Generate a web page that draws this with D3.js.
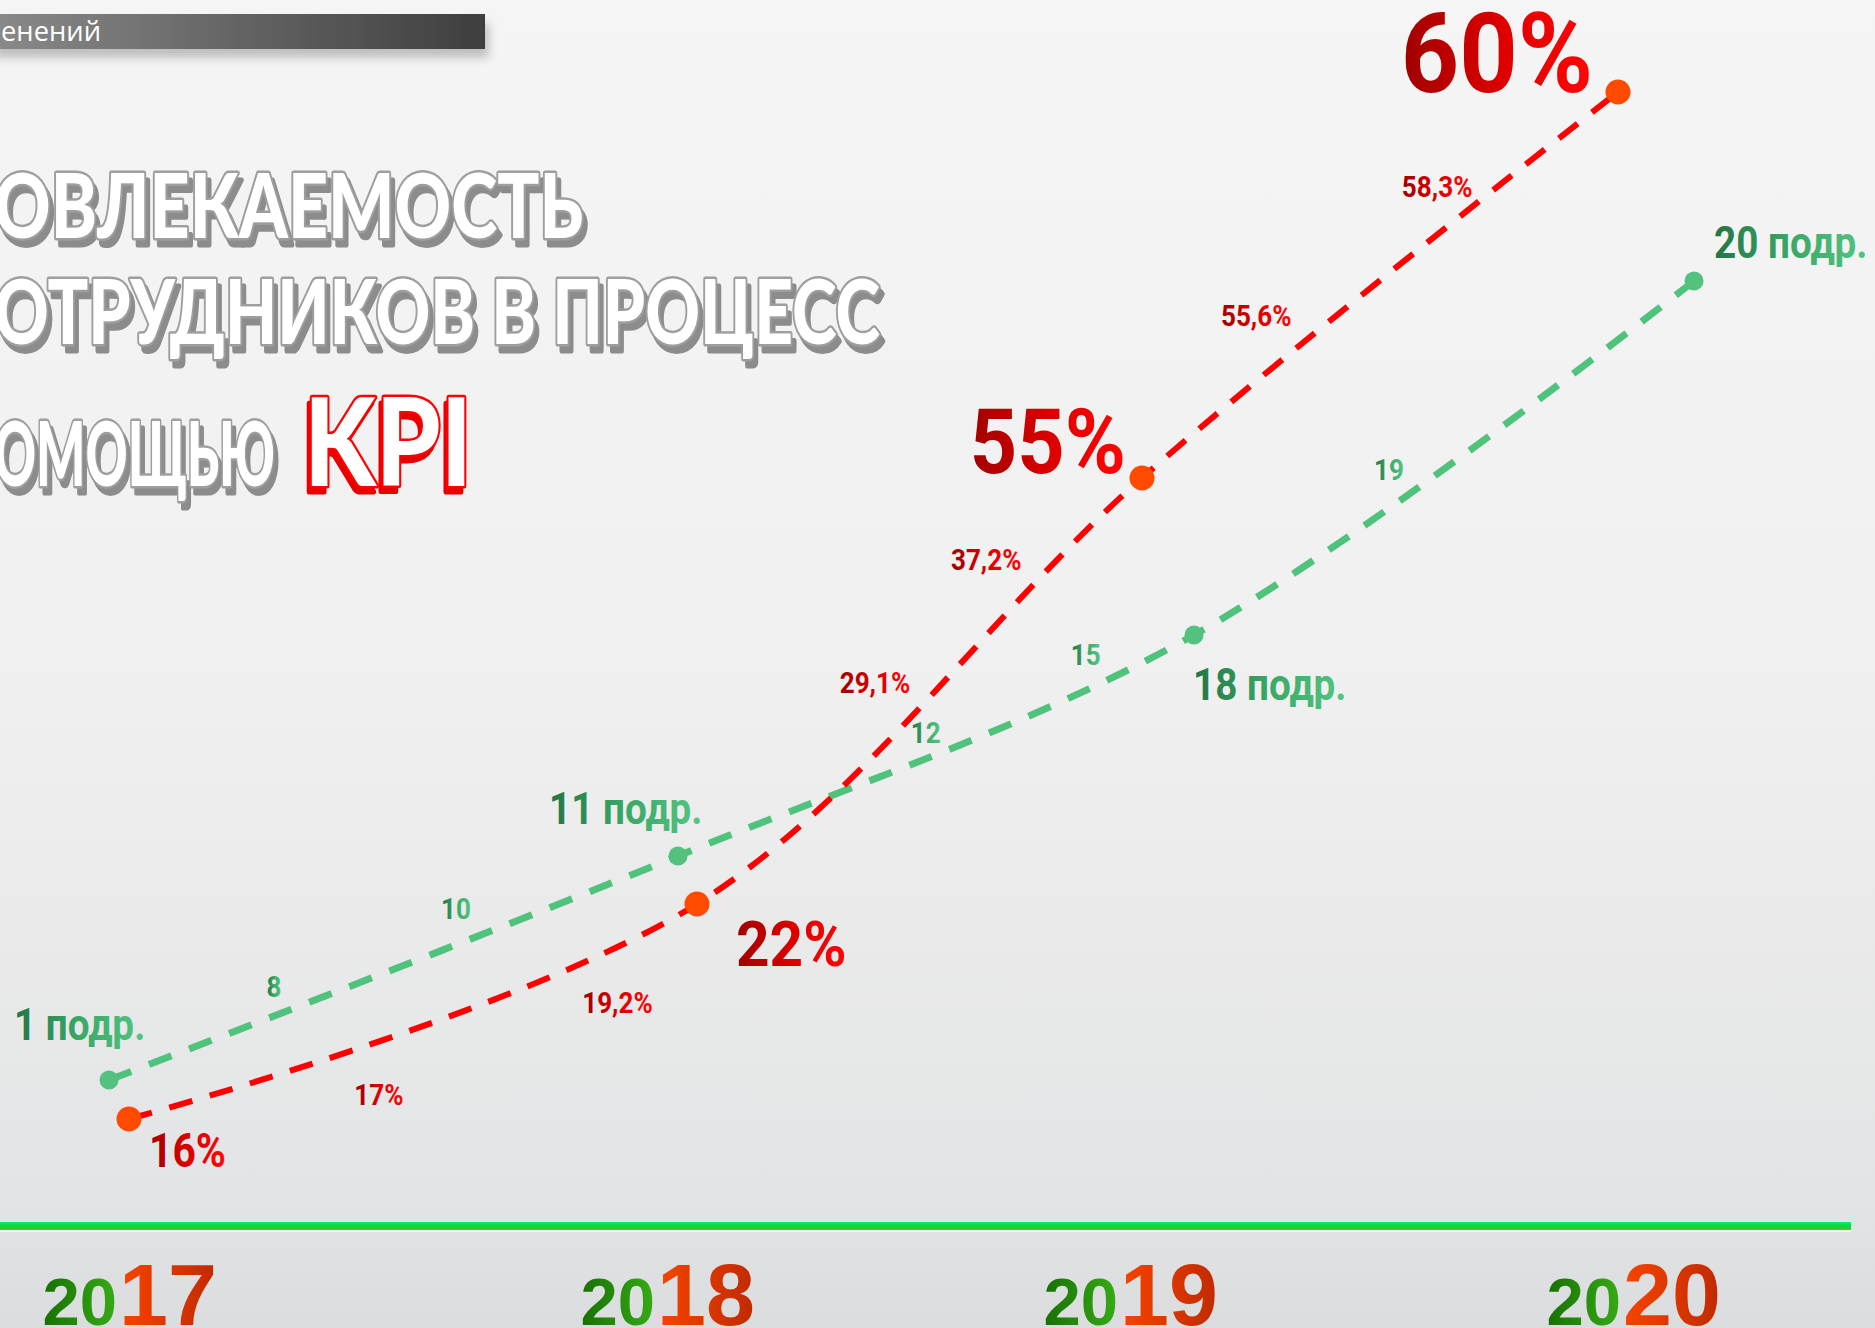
<!DOCTYPE html>
<html lang="ru">
<head>
<meta charset="utf-8">
<title>Вовлекаемость сотрудников в процесс с помощью KPI</title>
<script src="https://cdn.jsdelivr.net/npm/d3@7"></script>
<style>
    html, body { margin: 0; padding: 0; overflow: hidden; background: #eeeeee; }
    #chart-area { width: 1875px; height: 1328px; }
</style>
</head>
<body>
<div id="chart-area"></div>
<script>

// ---- data ----
let years = [2017, 2018, 2019, 2020];

// share of staff working with KPI, %
let shareValues = [16, 22, 55, 60];
let shareSteps = [17, 19.2, 29.1, 37.2, 55.6, 58.3];
let shareStepTimes = [2017.44, 2017.86, 2018.40, 2018.65, 2019.24, 2019.62];

// number of departments (подразделений)
let unitValues = [1, 11, 18, 20];
let unitSteps = [8, 10, 12, 15, 19];
let unitStepTimes = [2017.29, 2017.61, 2018.48, 2018.79, 2019.39];

let headerText = "енений";
let titleLines = ["ОВЛЕКАЕМОСТЬ", "ОТРУДНИКОВ В ПРОЦЕСС", "ОМОЩЬЮ"];
let titleAccent = "KPI";


// ---- layout (pixel ranges for the scales, label offsets) ----
const layout = {
    shareX: [129, 697, 1142, 1618],
    shareY: [1119, 904, 478, 92],
    unitX: [109, 678, 1194, 1694],
    unitY: [1080, 856, 635, 281],
    yearSplit: [117, 655, 1118, 1621],
    yearBaseline: 1325,
    axisY: 1222,
    shareLabels: [
        {anchor: "start", dx: 20, dy: 48, size: 48, sx: 0.85},
        {anchor: "start", dx: 39, dy: 62, size: 63, sx: 0.93},
        {anchor: "end", dx: -16, dy: -5, size: 91, sx: 0.91},
        {anchor: "end", dx: -25, dy: 0, size: 112, sx: 0.91}
    ],
    unitLabels: [
        {dx: -95, dy: -40},
        {dx: -129, dy: -32},
        {dx: -1, dy: 65},
        {dx: 20, dy: -23}
    ],
    shareStepDy: [22, 9, -119, -138, -106, -26],
    unitStepDy: [74, 41, -81, -65, 22]
};


class KpiChart {

    constructor(parentElement) {
        this.parentElement = parentElement;
        this.initVis();
    }

    initVis() {
        let vis = this;

        vis.width = 1875;
        vis.height = 1328;

        vis.svg = d3.select("#" + vis.parentElement).append("svg")
            .attr("width", vis.width)
            .attr("height", vis.height)
            .style("display", "block");

        vis.defs = vis.svg.append("defs");

        // gradients
        vis.addGradient("bg-grad", [0, 0, 0, 1], [[0, "#f5f5f5"], [0.5, "#f0f0f0"], [0.9, "#e3e4e5"], [1, "#dadcdd"]]);
        vis.addGradient("bar-grad", [0, 0, 1, 0], [[0, "#8a8a8a"], [1, "#3e3e3e"]]);
        vis.addGradient("red-text", [0, 0, 1, 0], [[0, "#a00000"], [0.55, "#e00000"], [1, "#ff0606"]]);
        vis.addGradient("green-text", [0, 0, 1, 0], [[0, "#227545"], [0.5, "#3aa866"], [1, "#55c583"]]);
        vis.addGradient("year-green", [0, 0, 1, 0], [[0, "#187004"], [1, "#36ab15"]]);
        vis.addGradient("year-red", [0, 0, 1, 0], [[0, "#f74400"], [1, "#c02a00"]]);
        vis.addGradient("axis-grad", [0, 0, 0, 1], [[0, "#00f566"], [0.5, "#0cd444"], [1, "#5cbc2a"]]);

        let shadow = vis.defs.append("filter")
            .attr("id", "bar-shadow")
            .attr("x", "-5%").attr("y", "-60%")
            .attr("width", "115%").attr("height", "260%");
        shadow.append("feDropShadow")
            .attr("dx", 4).attr("dy", 9)
            .attr("stdDeviation", 5)
            .attr("flood-color", "#000")
            .attr("flood-opacity", 0.22);

        // 3d shade for the title letters
        vis.addShade("shade-gray", "#8c8c8c", 4, 7);
        vis.addShade("shade-red", "#e80000", -3, 6);

        // background
        vis.svg.append("rect")
            .attr("width", vis.width)
            .attr("height", vis.height)
            .attr("fill", "url(#bg-grad)");

        // header bar (cut at the left edge)
        vis.svg.append("rect")
            .attr("x", -10).attr("y", 14)
            .attr("width", 495).attr("height", 35)
            .attr("fill", "url(#bar-grad)")
            .attr("filter", "url(#bar-shadow)");
        vis.svg.append("text")
            .attr("x", 1).attr("y", 41)
            .attr("font-family", "'Open Sans', sans-serif")
            .attr("font-size", 28)
            .attr("fill", "#ffffff")
            .attr("textLength", 100)
            .attr("lengthAdjust", "spacingAndGlyphs")
            .text(headerText);

        // graffiti-like title
        vis.graffiti(titleLines[0], -6, 238, 589, 90, "#9e9e9e", "shade-gray");
        vis.graffiti(titleLines[1], -6, 344, 886, 90, "#9e9e9e", "shade-gray");
        vis.graffiti(titleLines[2], -6, 486, 281, 90, "#9e9e9e", "shade-gray");
        vis.graffiti(titleAccent, 304, 486, 168, 122, "#ff0000", "shade-red");

        // green base line
        vis.svg.append("rect")
            .attr("x", 0).attr("y", layout.axisY)
            .attr("width", 1851).attr("height", 8)
            .attr("fill", "url(#axis-grad)");
        vis.svg.append("rect")
            .attr("x", 0).attr("y", layout.axisY + 8)
            .attr("width", 1851).attr("height", 2)
            .attr("fill", "#f4f4f4");

        // scales
        vis.xShare = d3.scaleLinear().domain(years).range(layout.shareX);
        vis.yShare = d3.scaleLinear().domain(shareValues).range(layout.shareY);
        vis.xUnit = d3.scaleLinear().domain(years).range(layout.unitX);
        vis.yUnit = d3.scaleLinear().domain(unitValues).range(layout.unitY);
        vis.xYear = d3.scaleLinear().domain(years).range(layout.yearSplit);

        // year labels: "20" green + last two digits red
        let yearG = vis.svg.append("g")
            .attr("class", "years")
            .selectAll("g")
            .data(years)
            .enter()
            .append("g")
            .attr("transform", d => "translate(" + vis.xYear(d) + ", " + layout.yearBaseline + ")")
            .attr("font-family", "'Liberation Sans', Arial, sans-serif")
            .attr("font-weight", "bold");
        yearG.append("text")
            .attr("text-anchor", "end")
            .attr("font-size", 67)
            .attr("fill", "url(#year-green)")
            .text(d => String(d).slice(0, 2));
        yearG.append("text")
            .attr("x", 2)
            .attr("text-anchor", "start")
            .attr("font-size", 88)
            .attr("fill", "url(#year-red)")
            .text(d => String(d).slice(2));

        vis.lineGroup = vis.svg.append("g").attr("class", "lines");
        vis.labelGroup = vis.svg.append("g")
            .attr("class", "labels")
            .attr("font-family", "Roboto, 'Liberation Sans', sans-serif")
            .attr("font-weight", "bold");

        vis.wrangleData();
    }

    addGradient(id, dir, stops) {
        let vis = this;
        let g = vis.defs.append("linearGradient")
            .attr("id", id)
            .attr("x1", dir[0]).attr("y1", dir[1])
            .attr("x2", dir[2]).attr("y2", dir[3]);
        stops.forEach(s => {
            g.append("stop").attr("offset", s[0]).attr("stop-color", s[1]);
        });
    }

    addShade(id, color, dx, dy) {
        let vis = this;
        let f = vis.defs.append("filter")
            .attr("id", id)
            .attr("x", "-10%").attr("y", "-20%")
            .attr("width", "120%").attr("height", "150%");
        f.append("feOffset").attr("in", "SourceAlpha").attr("dx", dx).attr("dy", dy).attr("result", "off");
        f.append("feFlood").attr("flood-color", color).attr("result", "col");
        f.append("feComposite").attr("in", "col").attr("in2", "off").attr("operator", "in").attr("result", "shade");
        let m = f.append("feMerge");
        m.append("feMergeNode").attr("in", "shade");
        m.append("feMergeNode").attr("in", "SourceGraphic");
    }

    graffiti(str, x, y, len, size, stroke, shade) {
        let vis = this;
        vis.svg.append("text")
            .attr("x", x).attr("y", y)
            .attr("font-family", "Lato, 'Liberation Sans', sans-serif")
            .attr("font-weight", 900)
            .attr("font-size", size)
            .attr("textLength", len)
            .attr("lengthAdjust", "spacingAndGlyphs")
            .attr("fill", "#ffffff")
            .attr("stroke", stroke)
            .attr("stroke-width", 5)
            .attr("stroke-linejoin", "round")
            .attr("filter", "url(#" + shade + ")")
            .style("paint-order", "stroke")
            .text(str);
    }

    wrangleData() {
        let vis = this;

        vis.sharePoints = years.map((yr, i) => ({year: yr, value: shareValues[i], layout: layout.shareLabels[i]}));
        vis.unitPoints = years.map((yr, i) => ({year: yr, value: unitValues[i], layout: layout.unitLabels[i]}));

        vis.shareStepData = shareSteps.map((v, i) => ({time: shareStepTimes[i], value: v, dy: layout.shareStepDy[i]}));
        vis.unitStepData = unitSteps.map((v, i) => ({time: unitStepTimes[i], value: v, dy: layout.unitStepDy[i]}));

        vis.updateVis();
    }

    updateVis() {
        let vis = this;

        let shareLine = d3.line()
            .x(d => vis.xShare(d.year))
            .y(d => vis.yShare(d.value))
            .curve(d3.curveCatmullRom.alpha(0.5));

        let unitLine = d3.line()
            .x(d => vis.xUnit(d.year))
            .y(d => vis.yUnit(d.value))
            .curve(d3.curveCatmullRom.alpha(0.5));

        // green first, red on top
        vis.lineGroup.append("path")
            .datum(vis.unitPoints)
            .attr("d", unitLine)
            .attr("fill", "none")
            .attr("stroke", "#4fc27c")
            .attr("stroke-width", 7)
            .attr("stroke-dasharray", "24,19");

        vis.lineGroup.append("path")
            .datum(vis.sharePoints)
            .attr("d", shareLine)
            .attr("fill", "none")
            .attr("stroke", "#ff0000")
            .attr("stroke-width", 6)
            .attr("stroke-dasharray", "24,18");

        // dots
        vis.lineGroup.selectAll("circle.unit")
            .data(vis.unitPoints)
            .enter()
            .append("circle")
            .attr("class", "unit")
            .attr("cx", d => vis.xUnit(d.year))
            .attr("cy", d => vis.yUnit(d.value))
            .attr("r", 9.5)
            .attr("fill", "#52c27e");

        vis.lineGroup.selectAll("circle.share")
            .data(vis.sharePoints)
            .enter()
            .append("circle")
            .attr("class", "share")
            .attr("cx", d => vis.xShare(d.year))
            .attr("cy", d => vis.yShare(d.value))
            .attr("r", 12.5)
            .attr("fill", "#ff4a00");

        // big % labels
        vis.labelGroup.selectAll("g.share-label")
            .data(vis.sharePoints)
            .enter()
            .append("g")
            .attr("class", "share-label")
            .attr("transform", d => "translate(" + (vis.xShare(d.year) + d.layout.dx) + ", "
                + (vis.yShare(d.value) + d.layout.dy) + ") scale(" + d.layout.sx + ", 1)")
            .append("text")
            .attr("text-anchor", d => d.layout.anchor)
            .attr("font-size", d => d.layout.size)
            .attr("fill", "url(#red-text)")
            .text(d => d.value + "%");

        // department labels
        vis.labelGroup.selectAll("g.unit-label")
            .data(vis.unitPoints)
            .enter()
            .append("g")
            .attr("class", "unit-label")
            .attr("transform", d => "translate(" + (vis.xUnit(d.year) + d.layout.dx) + ", "
                + (vis.yUnit(d.value) + d.layout.dy) + ") scale(0.86, 1)")
            .append("text")
            .attr("font-size", 45)
            .attr("fill", "url(#green-text)")
            .text(d => d.value + " подр.");

        // intermediate values
        let fmt = v => String(v).replace(".", ",");

        vis.labelGroup.selectAll("g.share-step")
            .data(vis.shareStepData)
            .enter()
            .append("g")
            .attr("class", "share-step")
            .attr("transform", d => "translate(" + vis.xShare(d.time) + ", "
                + (vis.yShare(d.value) + d.dy) + ") scale(0.9, 1)")
            .append("text")
            .attr("text-anchor", "middle")
            .attr("font-size", 29)
            .attr("fill", "url(#red-text)")
            .text(d => fmt(d.value) + "%");

        vis.labelGroup.selectAll("g.unit-step")
            .data(vis.unitStepData)
            .enter()
            .append("g")
            .attr("class", "unit-step")
            .attr("transform", d => "translate(" + vis.xUnit(d.time) + ", "
                + (vis.yUnit(d.value) + d.dy) + ") scale(0.9, 1)")
            .append("text")
            .attr("text-anchor", "middle")
            .attr("font-size", 29)
            .attr("fill", "url(#green-text)")
            .text(d => fmt(d.value));
    }
}

let kpiChart = new KpiChart("chart-area");

</script>
</body>
</html>
